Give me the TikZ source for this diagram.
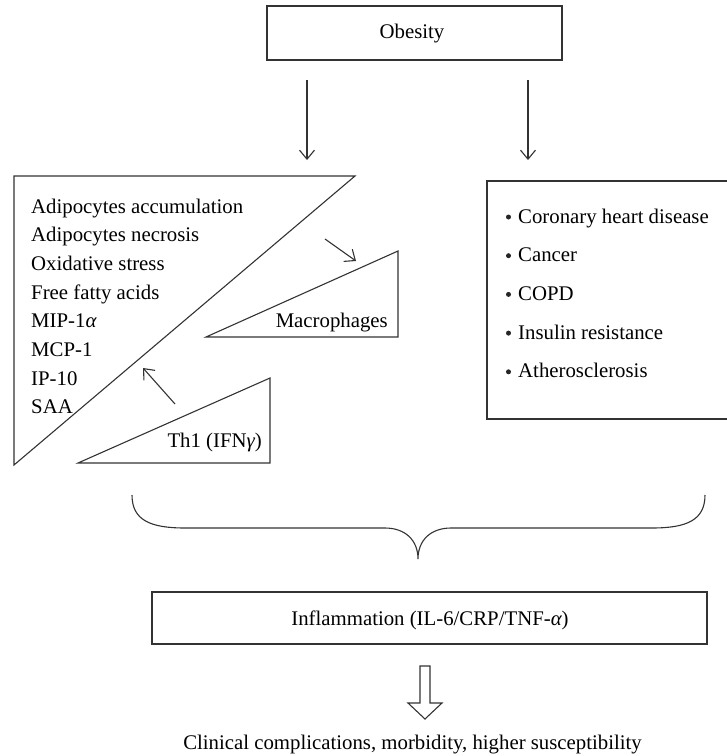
\documentclass[tikz,border=0pt]{standalone}
\usepackage{fontspec}
\setmainfont{Liberation Serif}
\usetikzlibrary{arrows.meta}
\begin{document}
\begin{tikzpicture}[x=1pt,y=-1pt,
  ln/.style={draw=black!80,line width=1.1pt},
  arr/.style={ln,-{Straight Barb[length=9pt,width=15pt,line width=1.1pt]}},
  txt/.style={inner sep=0pt,font=\fontsize{20.8}{24}\selectfont},
  boxn/.style={ln,inner sep=0pt}]
\useasboundingbox (0,0) rectangle (727,756);
\begin{scope}
\clip (0,0) rectangle (727,756);
% Obesity box
\node[boxn,minimum width=295pt,minimum height=54pt] (obes) at (414.5,33) {};
\node[txt,anchor=base] (obestxt) at (412,38) {Obesity};
% arrows from obesity
\coordinate (a1s) at (307,80); \coordinate (a1e) at (307,160);
\coordinate (a2s) at (528,80); \coordinate (a2e) at (528,160);
\draw[arr] (a1s) -- (a1e);
\draw[arr] (a2s) -- (a2e);
% big triangle
\coordinate (t1) at (14,176); \coordinate (t2) at (355,176); \coordinate (t3) at (14,465);
\draw[ln,line join=miter] (t1) -- (t2) -- (t3) -- cycle;
\foreach \i/\t in {0/Adipocytes accumulation,1/Adipocytes necrosis,2/Oxidative stress,3/Free fatty acids,4/MIP-1{\itshape α},5/MCP-1,6/IP-10,7/SAA}{
  \node[txt,anchor=base west] (L\i) at (31,213+28.7*\i) {\t};
}
% macrophages triangle
\coordinate (m1) at (206,337); \coordinate (m2) at (398,251); \coordinate (m3) at (398,337);
\draw[ln] (m1) -- (m2) -- (m3) -- cycle;
\node[txt,anchor=base east] (mac) at (388,327) {Macrophages};
% Th1 triangle
\coordinate (h1) at (78,463); \coordinate (h2) at (270,378); \coordinate (h3) at (270,463);
\draw[ln] (h1) -- (h2) -- (h3) -- cycle;
\node[txt,anchor=base east] (th1) at (262,447) {Th1 (IFN{\itshape γ})};
% small arrows
\coordinate (ma) at (325,239); \coordinate (mb) at (356,261);
\draw[arr] (ma) -- (mb);
\coordinate (ha) at (175,404); \coordinate (hb) at (143,368);
\draw[arr] (ha) -- (hb);
% right box
\draw[ln] (740,181) -- (487,181) -- (487,419) -- (740,419);
\foreach \i/\t in {0/Coronary heart disease,1/Cancer,2/COPD,3/Insulin resistance,4/Atherosclerosis}{
  \node[txt,anchor=base west] (R\i) at (518,223+38.7*\i) {\t};
  \fill[black!85] (508.5,217+38.7*\i) circle (2.5pt);
}
% brace
\draw[ln] (132,495) .. controls (132,520) and (150,528) .. (185,528) -- (385,528)
  .. controls (405,528) and (418,540) .. (418,559)
  .. controls (418,540) and (431,528) .. (451,528) -- (652,528)
  .. controls (687,528) and (705,520) .. (705,495);
% inflammation box
\node[boxn,minimum width=555pt,minimum height=52pt] (infl) at (429.5,618) {};
\node[txt,anchor=base] (infltxt) at (430,625) {Inflammation (IL-6/CRP/TNF-{\itshape α})};
% hollow arrow
\draw[ln,line join=miter] (420,666) -- (430,666) -- (430,703) -- (442,703) -- (425,719) -- (408,703) -- (420,703) -- cycle;
% bottom text
\node[txt,anchor=base] (clin) at (412.5,749) {Clinical complications, morbidity, higher susceptibility};
\end{scope}
\end{tikzpicture}
\end{document}
